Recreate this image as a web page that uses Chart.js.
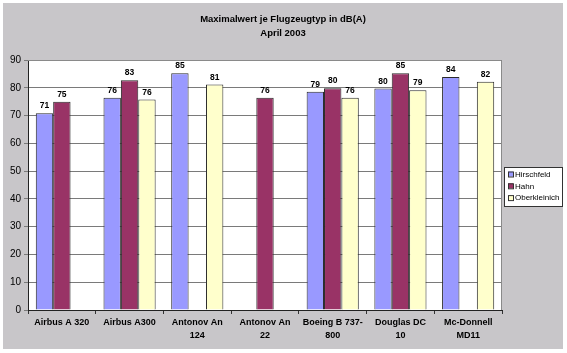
<!DOCTYPE html>
<html>
<head>
<meta charset="utf-8">
<script src="https://cdn.jsdelivr.net/npm/chart.js@4.4.1/dist/chart.umd.min.js"></script>
<style>
  body { margin: 0; background: #fff; }
  canvas { display: block; }
</style>
</head>
<body>
<canvas id="chart" width="567" height="353"></canvas>
<script>
const categories = [
  "Airbus A 320",
  "Airbus A300",
  ["Antonov An", "124"],
  ["Antonov An", "22"],
  ["Boeing B 737-", "800"],
  ["Douglas DC", "10"],
  ["Mc-Donnell", "MD11"]
];
const seriesNames = ["Hirschfeld", "Hahn", "Oberkleinich"];
const hirschfeld = [70.8, 76.4, 85.2, null, 78.6, 79.7, 83.9];
const hahn = [75.0, 82.7, null, 76.4, 79.8, 85.2, null];
const oberkleinich = [null, 75.8, 81.2, null, 76.4, 79.1, 82.2];
const yTicks = [0, 10, 20, 30, 40, 50, 60, 70, 80, 90];
const titleLines = ["Maximalwert je Flugzeugtyp in dB(A)", "April 2003"];

const colors = ["#9999ff", "#993366", "#ffffcc"];

// background, plot area, frame
const backdrop = {
  id: 'backdrop',
  beforeDraw(chart) {
    const c = chart.ctx, a = chart.chartArea;
    c.save();
    c.fillStyle = '#ffffff';
    c.fillRect(0, 0, chart.width, chart.height);
    c.fillStyle = '#c8c6c9';
    c.fillRect(3, 3, 560, 346);
    c.fillStyle = '#ffffff';
    c.fillRect(a.left, a.top, a.right - a.left, a.bottom - a.top);
    c.restore();
  },
  afterDraw(chart) {
    const c = chart.ctx, a = chart.chartArea;
    c.save();
    c.strokeStyle = '#8a8a8a';
    c.lineWidth = 1;
    c.beginPath();
    c.moveTo(a.left, a.top + 0.5);
    c.lineTo(a.right - 0.5, a.top + 0.5);
    c.lineTo(a.right - 0.5, a.bottom);
    c.stroke();

    // title
    c.fillStyle = '#000';
    c.font = 'bold 9.5px "Liberation Sans", Arial, sans-serif';
    c.textAlign = 'center';
    c.textBaseline = 'middle';
    c.fillText(titleLines[0], 283, 19);
    c.fillText(titleLines[1], 283, 33);

    // legend
    const lx = 504, ly = 167, lw = 58, lh = 39;
    c.fillStyle = '#fff';
    c.fillRect(lx, ly, lw, lh);
    c.strokeStyle = '#333';
    c.strokeRect(lx + 0.5, ly + 0.5, lw, lh);
    c.font = '8px "Liberation Sans", Arial, sans-serif';
    c.textAlign = 'left';
    chart.data.datasets.forEach((ds, i) => {
      const y = ly + 7.5 + i * 11.8;
      c.fillStyle = ds.backgroundColor;
      c.fillRect(lx + 4, y - 3, 5, 5);
      c.strokeStyle = '#333';
      c.strokeRect(lx + 4.5, y - 2.5, 5, 5);
      c.fillStyle = '#000';
      c.fillText(ds.label, lx + 11, y);
    });
    c.restore();
  }
};

// value labels above bars
const valueLabels = {
  id: 'valueLabels',
  afterDatasetsDraw(chart) {
    const c = chart.ctx;
    c.save();
    c.font = 'bold 8.5px "Liberation Sans", Arial, sans-serif';
    c.fillStyle = '#000';
    c.textAlign = 'center';
    c.textBaseline = 'bottom';
    chart.data.datasets.forEach((ds, i) => {
      chart.getDatasetMeta(i).data.forEach((bar, j) => {
        const v = ds.data[j];
        if (v == null) return;
        c.fillText(Math.round(v), bar.x, bar.y - 3);
      });
    });
    c.restore();
  }
};

new Chart(document.getElementById('chart'), {
  type: 'bar',
  data: {
    labels: categories,
    datasets: [hirschfeld, hahn, oberkleinich].map((d, i) => ({
      label: seriesNames[i],
      data: d,
      backgroundColor: colors[i],
      borderColor: '#2a2a2a',
      borderWidth: 1,
      categoryPercentage: 0.77,
      barPercentage: 1.0
    }))
  },
  options: {
    responsive: false,
    animation: false,
    devicePixelRatio: 1,
    layout: { padding: { left: 0, right: 65, top: 60, bottom: 3 } },
    plugins: {
      legend: { display: false },
      title: { display: false },
      tooltip: { enabled: false }
    },
    scales: {
      x: {
        afterFit(scale) { scale.height = 40; },
        grid: { drawOnChartArea: false, tickLength: 4, color: '#333', offset: true },
        border: { color: '#222' },
        ticks: {
          color: '#000',
          maxRotation: 0,
          autoSkip: false,
          padding: 2,
          font: { family: '"Liberation Sans", Arial, sans-serif', size: 9, weight: 'bold', lineHeight: 1.45 }
        }
      },
      y: {
        min: 0,
        max: 90,
        afterFit(scale) { scale.width = 28; },
        afterBuildTicks(scale) { scale.ticks = yTicks.map(v => ({ value: v })); },
        grid: { color: '#7a7a7a', tickLength: 4 },
        border: { color: '#222' },
        ticks: {
          color: '#000',
          padding: 3,
          font: { family: '"Liberation Sans", Arial, sans-serif', size: 10 }
        }
      }
    }
  },
  plugins: [backdrop, valueLabels]
});
</script>
</body>
</html>
